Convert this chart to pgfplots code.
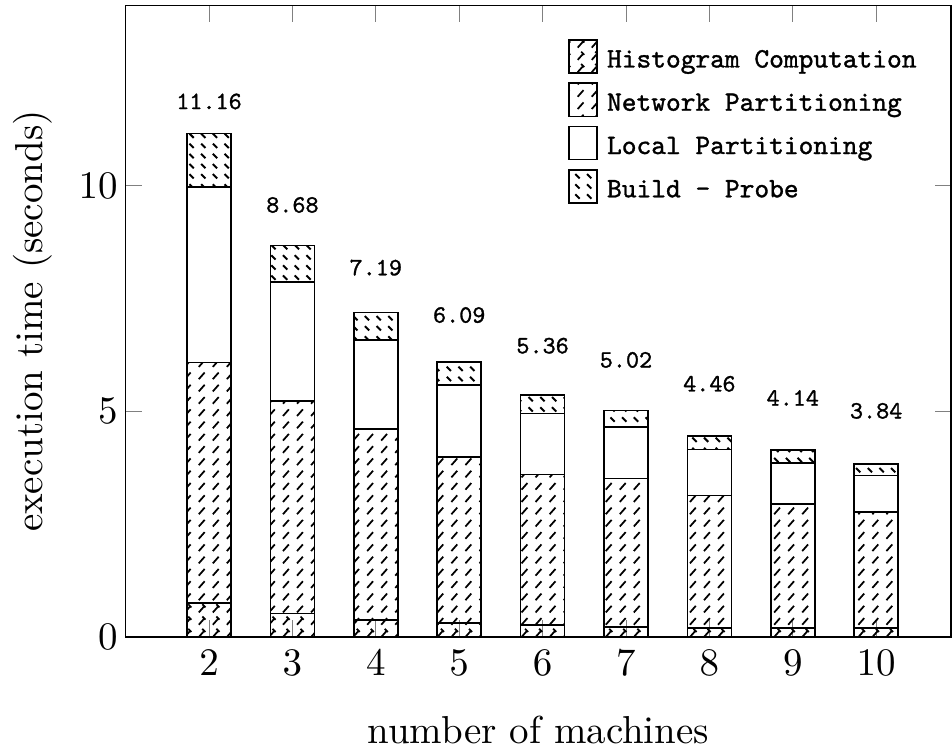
\documentclass[border=0pt]{standalone}
\usepackage{fontspec}
\usepackage{pgfplots}
\pgfplotsset{compat=1.18}
\usetikzlibrary{patterns}
\newfontfamily\legfont{lmmono10-regular.otf}[FakeBold=1.2]

% short slashes
\pgfdeclarepatternformonly{netdash}{\pgfqpoint{-1pt}{-1pt}}{\pgfqpoint{4.6pt}{4.2pt}}{\pgfqpoint{3.6pt}{3.15pt}}{%
  \pgfsetlinewidth{0.45pt}
  \pgfpathmoveto{\pgfqpoint{0.6pt}{0.5pt}}
  \pgfpathlineto{\pgfqpoint{2.1pt}{2.2pt}}
  \pgfusepath{stroke}}
% small backslash ticks
\pgfdeclarepatternformonly{bpdash}{\pgfqpoint{-1pt}{-1pt}}{\pgfqpoint{4pt}{3.6pt}}{\pgfqpoint{3pt}{2.6pt}}{%
  \pgfsetlinewidth{0.5pt}
  \pgfpathmoveto{\pgfqpoint{0.6pt}{2.0pt}}
  \pgfpathlineto{\pgfqpoint{1.7pt}{0.9pt}}
  \pgfusepath{stroke}}
% both
\pgfdeclarepatternformonly{histdash}{\pgfqpoint{-1pt}{-1pt}}{\pgfqpoint{4.6pt}{4.2pt}}{\pgfqpoint{3.6pt}{3.15pt}}{%
  \pgfsetlinewidth{0.45pt}
  \pgfpathmoveto{\pgfqpoint{0.6pt}{0.5pt}}
  \pgfpathlineto{\pgfqpoint{2.1pt}{2.2pt}}
  \pgfpathmoveto{\pgfqpoint{1.5pt}{2.6pt}}
  \pgfpathlineto{\pgfqpoint{2.3pt}{1.8pt}}
  \pgfusepath{stroke}}

\pgfplotstableread{
x   h
2   0.75
3   0.52
4   0.38
5   0.31
6   0.26
7   0.22
8   0.20
9   0.20
10  0.20
}\hist
\pgfplotstableread{
x   n
2   5.33
3   4.71
4   4.23
5   3.68
6   3.34
7   3.29
8   2.94
9   2.75
10  2.57
}\net
\pgfplotstableread{
x   l
2   3.90
3   2.64
4   1.97
5   1.59
6   1.35
7   1.15
8   1.02
9   0.91
10  0.81
}\loc
\pgfplotstableread{
x   b     t
2   1.18  11.16
3   0.81  8.68
4   0.61  7.19
5   0.51  6.09
6   0.41  5.36
7   0.36  5.02
8   0.30  4.46
9   0.28  4.14
10  0.26  3.84
}\bp

\begin{document}
\begin{tikzpicture}
\begin{axis}[
  width=211.8pt, height=162pt, scale only axis,
  xmin=1, xmax=10.9, ymin=0, ymax=14,
  ybar stacked, bar width=11.3pt,
  xtick={2,3,...,10}, ytick={0,5,10},
  yticklabel style={xshift=1.5pt},
  xlabel={number of machines},
  xlabel style={inner sep=1.5pt, yshift=-5.2pt},
  ylabel={execution time (seconds)},
  legend style={draw=none, fill=none, inner sep=0pt,
    font=\fontsize{7.2}{8.6}\selectfont\legfont,
    nodes={inner sep=1.5pt},
    /tikz/every odd column/.append style={column sep=0.9pt},
    at={(0.535,0.948)}, anchor=north west, row sep=0.85pt},
  legend cell align=left,
  legend image code/.code={\draw[#1] (0pt,-2.9pt) rectangle (7.2pt,5.6pt);},
  after end axis/.code={\path (rel axis cs:0,1) ++(0pt,1.4pt);},
]
\addplot[draw=black, pattern=histdash] table[x=x,y=h] {\hist};
\addplot[draw=black, pattern=netdash] table[x=x,y=n] {\net};
\addplot[draw=black, fill=white] table[x=x,y=l] {\loc};
\addplot[draw=black, pattern=bpdash,
  nodes near coords, point meta=explicit symbolic,
  every node near coord/.append style={font=\fontsize{6.4}{7.5}\selectfont\legfont, anchor=south, yshift=9.5pt}]
  table[x=x,y=b,meta=t] {\bp};
\legend{Histogram Computation, Network Partitioning, Local Partitioning, Build - Probe}
\end{axis}
\end{tikzpicture}
\end{document}
